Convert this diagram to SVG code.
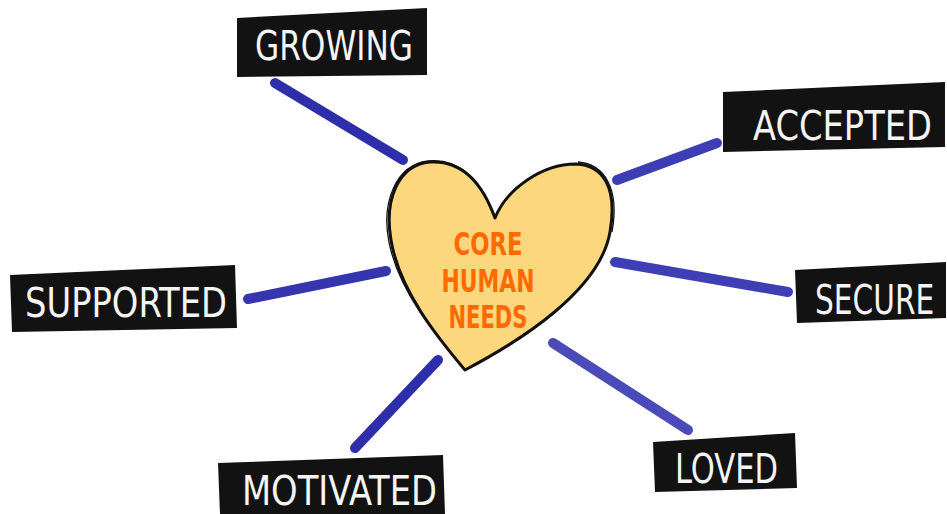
<svg xmlns="http://www.w3.org/2000/svg" width="947" height="514" viewBox="0 0 947 514">
<style>
.conn{stroke-width:10;stroke-linecap:round;fill:none}
.box{fill:#121212}
.lbl{fill:#f4f4f4;font-family:"DejaVu Sans Condensed","Liberation Sans Narrow","DejaVu Sans",sans-serif;font-size:40px;font-weight:normal}
.core{fill:#FF6A00;font-family:"DejaVu Sans Condensed","Liberation Sans Narrow","DejaVu Sans",sans-serif;font-size:32px;font-weight:bold;text-anchor:middle}
</style>
<rect width="947" height="514" fill="#ffffff"/>
<g id="connectors">
<line class="conn" x1="275" y1="83" x2="403" y2="160" stroke="#2E2EA8"/>
<line class="conn" x1="617" y1="180" x2="717" y2="143" stroke="#3D3DB5"/>
<line class="conn" x1="248" y1="299" x2="386" y2="271" stroke="#3535AE"/>
<line class="conn" x1="615" y1="262" x2="788" y2="292" stroke="#3E3EB5"/>
<line class="conn" x1="438" y1="360" x2="355" y2="448" stroke="#2E2EAA"/>
<line class="conn" x1="553" y1="343" x2="688" y2="430" stroke="#4A4AB8"/>
</g>
<g id="heart">
<path d="M495,218 C482,182 462,160 430,162 C398,165 384,200 391,240 C399,290 438,338 465,370 C522,340 600,290 610,232 C618,186 602,165 576,164 C541,164 506,190 495,218 Z" fill="#FCD77E" stroke="#111" stroke-width="3" stroke-linejoin="round"/>
<path d="M493,214 C480,180 460,158 428,161 C396,165 381,202 389,242 C398,290 436,336 463,368" fill="none" stroke="#111" stroke-width="1.3"/>
<path d="M578,162 C604,164 620,188 612,232" fill="none" stroke="#111" stroke-width="1.3"/>
<text class="core" x="488" y="255" textLength="69" lengthAdjust="spacingAndGlyphs">CORE</text>
<text class="core" x="488" y="292" textLength="93" lengthAdjust="spacingAndGlyphs">HUMAN</text>
<text class="core" x="488" y="328" textLength="79" lengthAdjust="spacingAndGlyphs">NEEDS</text>
</g>
<g id="growing">
<polygon class="box" points="237,18 427,8 427,75 237,77"/>
<text class="lbl" x="255" y="60" textLength="158" lengthAdjust="spacingAndGlyphs">GROWING</text>
</g>
<g id="accepted">
<polygon class="box" points="723,92 945,82 945,147 723,152"/>
<text class="lbl" x="753" y="140" textLength="179" lengthAdjust="spacingAndGlyphs">ACCEPTED</text>
</g>
<g id="supported">
<polygon class="box" points="10,275 235,265 237,328 12,332"/>
<text class="lbl" x="25" y="317" textLength="202" lengthAdjust="spacingAndGlyphs">SUPPORTED</text>
</g>
<g id="secure">
<polygon class="box" points="795,270 946,262 946,318 797,323"/>
<text class="lbl" transform="translate(815,314) scale(0.8,1)" x="0" y="0" textLength="149" lengthAdjust="spacingAndGlyphs">SECURE</text>
</g>
<g id="motivated">
<polygon class="box" points="218,463 443,455 445,514 220,514"/>
<text class="lbl" x="242" y="505" textLength="195" lengthAdjust="spacingAndGlyphs">MOTIVATED</text>
</g>
<g id="loved">
<polygon class="box" points="653,442 795,433 797,488 655,492"/>
<text class="lbl" x="675" y="483" textLength="103" lengthAdjust="spacingAndGlyphs">LOVED</text>
</g>
</svg>
